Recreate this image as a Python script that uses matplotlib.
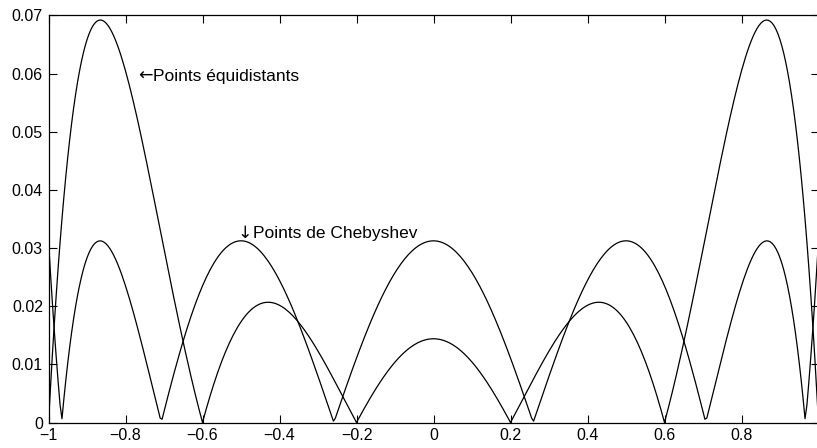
import numpy as np
import matplotlib
matplotlib.use("Agg")
import matplotlib.pyplot as plt

# Interpolation nodes on [-1, 1]
equi_nodes = [-1.0, -0.6, -0.2, 0.2, 0.6, 1.0]
cheb_nodes = [-0.9659, -0.7071, -0.2588, 0.2588, 0.7071, 0.9659]

x_ticks = [-1, -0.8, -0.6, -0.4, -0.2, 0, 0.2, 0.4, 0.6, 0.8]
x_tick_labels = ["\u22121", "\u22120.8", "\u22120.6", "\u22120.4", "\u22120.2",
                 "0", "0.2", "0.4", "0.6", "0.8"]
y_ticks = [0, 0.01, 0.02, 0.03, 0.04, 0.05, 0.06, 0.07]
y_tick_labels = ["0", "0.01", "0.02", "0.03", "0.04", "0.05", "0.06", "0.07"]

arrow_equi, label_equi = "\u2190", "Points \u00e9quidistants"
arrow_cheb, label_cheb = "\u2193", "Points de Chebyshev"

plt.rcParams["font.family"] = ["Liberation Sans", "DejaVu Sans"]


def node_poly(x, nodes):
    """|prod (x - x_i)| over the given nodes."""
    p = np.ones_like(x)
    for n in nodes:
        p = p * (x - n)
    return np.abs(p)


x = np.linspace(-1, 1, 401)

fig = plt.figure(figsize=(8.17, 4.48), dpi=100)
W, H = 817, 448
left, right, top, bottom = 48.5, 818.5, 15.5, 422.5
ax = fig.add_axes([left / W, 1 - bottom / H, (right - left) / W, (bottom - top) / H])

ax.plot(x, node_poly(x, equi_nodes), color="black", lw=0.9)
ax.plot(x, node_poly(x, cheb_nodes), color="black", lw=0.9)

ax.set_xlim(-1, 1)
ax.set_ylim(0, 0.07)
ax.set_xticks(x_ticks)
ax.set_xticklabels(x_tick_labels)
ax.set_yticks(y_ticks)
ax.set_yticklabels(y_tick_labels)
ax.tick_params(direction="in", length=6, width=0.8, top=True, right=True, pad=4,
               labelsize=11.5)
for s in ax.spines.values():
    s.set_linewidth(0.9)

# curve labels: arrow glyph followed by the caption
ax.text(-0.767, 0.0588, arrow_equi, ha="left", va="baseline", fontsize=12.5,
        family=["DejaVu Sans"])
ax.text(-0.728, 0.0588, label_equi, ha="left", va="baseline", fontsize=12.5)
ax.text(-0.508, 0.0318, arrow_cheb, ha="left", va="baseline", fontsize=12.5,
        family=["DejaVu Sans"])
ax.text(-0.469, 0.0318, label_cheb, ha="left", va="baseline", fontsize=12.5)

fig.savefig("out.png", dpi=100)
